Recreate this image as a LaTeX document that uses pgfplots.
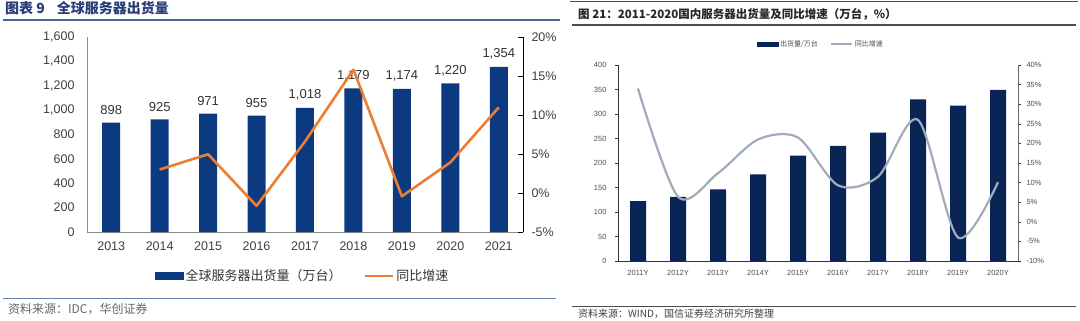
\documentclass[border=0pt]{standalone}
\usepackage{fontspec}
\setmainfont{Liberation Sans}
\newfontfamily\cjk{Noto Sans CJK SC}
\usepackage{pgfplots}
\pgfplotsset{compat=1.18}
\definecolor{barblue}{RGB}{12,58,128}
\definecolor{lineorange}{RGB}{237,125,49}
\definecolor{navy}{RGB}{10,36,84}
\definecolor{graylin}{RGB}{160,172,188}
\definecolor{titleblue}{RGB}{40,60,120}
\definecolor{ruleblue}{RGB}{70,100,150}
\begin{document}
\begin{tikzpicture}[x=1pt,y=1pt]
\path[use as bounding box] (0,0) rectangle (1080,-321);
% ---------- left panel frame ----------
\node[anchor=west, inner sep=0pt, text=titleblue, font=\cjk\bfseries\fontsize{14}{14}\selectfont] at (5,-8) {图表 9\hspace{12pt}全球服务器出货量};
\draw[ruleblue, line width=2pt] (3,-20) -- (560,-20);
\draw[ruleblue!80, line width=0.8pt] (3,-298) -- (556,-298);
\node[anchor=west, inner sep=0pt, text=black!60, font=\cjk\fontsize{12}{12}\selectfont] at (8,-309) {资料来源：IDC，华创证券};
% ---------- right panel frame ----------
\draw[black!70, line width=1.5pt] (570,-1.5) -- (1078,-1.5);
\node[anchor=west, inner sep=0pt, font=\cjk\bfseries\fontsize{11.5}{12}\selectfont, text=black!85] at (578,-14) {图 21：2011-2020国内服务器出货量及同比增速（万台，\%）};
\draw[black!70, line width=1.2pt] (572,-25) -- (1076,-25);
\draw[black!70, line width=1.5pt] (572,-306.5) -- (1076,-306.5);
\node[anchor=west, inner sep=0pt, font=\cjk\fontsize{10}{10}\selectfont, text=black!75] at (578,-314) {资料来源：WIND，国信证券经济研究所整理};

% ---------- left chart: bars ----------
\begin{axis}[
  at={(87pt,-232pt)}, anchor=south west, scale only axis,
  width=436pt, height=195pt,
  xmin=-0.5, xmax=8.5, ymin=0, ymax=1600,
  axis x line*=bottom, axis y line*=left,
  axis line style={draw=black!45, line width=0.8pt},
  xtick={0,...,8}, xticklabels={2013,2014,2015,2016,2017,2018,2019,2020,2021},
  ytick={0,200,...,1600},
  major tick length=0pt,
  /pgf/number format/1000 sep={,},
  /pgf/number format/assume math mode=true,
  ticklabel style={font=\fontsize{12.5}{13}\selectfont, text=black!75},
  yticklabel style={xshift=-9pt},
  xticklabel style={yshift=-6pt},
  clip=false,
]
\addplot[ybar, bar width=18pt, fill=barblue, draw=none,
  nodes near coords,
  nodes near coords style={font=\fontsize{13}{13}\selectfont, text=black!80, yshift=4pt}]
  coordinates {(0,898) (1,925) (2,971) (3,955) (4,1018) (5,1179) (6,1174) (7,1220) (8,1354)};
\end{axis}
% ---------- left chart: growth line ----------
\begin{axis}[
  at={(87pt,-232pt)}, anchor=south west, scale only axis,
  width=436pt, height=195pt,
  xmin=-0.5, xmax=8.5, ymin=-5, ymax=20,
  axis x line=none, axis y line*=right,
  axis line style={draw=black, line width=0.8pt},
  ytick={-5,0,5,10,15,20},
  yticklabels={-5\%,0\%,5\%,10\%,15\%,20\%},
  tick align=inside, major tick length=5pt,
  tick style={black, line width=0.8pt},
  ticklabel style={font=\fontsize{12.5}{13}\selectfont, text=black!75},
  yticklabel style={anchor=west, xshift=5pt},
  clip=false,
  legend columns=2,
  legend style={at={(0.495,-0.226)}, anchor=center, draw=none, fill=none,
    font=\cjk\fontsize{13}{13}\selectfont, text=black!80,
    /tikz/every even column/.append style={column sep=20pt}},
]
\addlegendimage{legend image code/.code={\fill[barblue] (0pt,-3.5pt) rectangle (28pt,3.5pt);}}
\addlegendentry{全球服务器出货量（万台）}
\addplot[lineorange, line width=2.6pt, line join=round,
  legend image code/.code={\draw[lineorange, line width=2.6pt] (0pt,0pt) -- (28pt,0pt);}]
  coordinates {(1,3.01) (2,4.97) (3,-1.65) (4,6.60) (5,15.82) (6,-0.42) (7,3.92) (8,10.98)};
\addlegendentry{同比增速}
\end{axis}

% ---------- right chart: bars ----------
\begin{axis}[
  at={(618pt,-261pt)}, anchor=south west, scale only axis,
  width=400pt, height=196pt,
  xmin=-0.5, xmax=9.5, ymin=0, ymax=400,
  axis x line*=bottom, axis y line*=left,
  axis line style={draw=black!80, line width=0.7pt},
  xtick={0,...,9},
  xticklabels={2011Y,2012Y,2013Y,2014Y,2015Y,2016Y,2017Y,2018Y,2019Y,2020Y},
  minor xtick={0.5,1.5,...,8.5},
  ytick={0,50,...,400},
  tick align=outside, major tick length=3pt, minor tick length=3pt,
  xtick style={draw=none},
  minor tick style={draw=black!80, line width=0.6pt},
  ytick style={black!80, line width=0.6pt},
  /pgf/number format/assume math mode=true,
  ticklabel style={font=\fontsize{7.5}{8}\selectfont, text=black!70},
  yticklabel style={xshift=-5pt},
  xticklabel style={yshift=-3pt},
  clip=false,
]
\addplot[ybar, bar width=16pt, fill=navy, draw=none]
  coordinates {(0,122) (1,131) (2,146) (3,177) (4,215) (5,235) (6,262) (7,330) (8,317) (9,349)};
\end{axis}
% ---------- right chart: growth line ----------
\begin{axis}[
  at={(618pt,-261pt)}, anchor=south west, scale only axis,
  width=400pt, height=196pt,
  xmin=-0.5, xmax=9.5, ymin=-10, ymax=40,
  axis x line=none, axis y line*=right,
  axis line style={draw=black!60, line width=0.7pt},
  ytick={-10,-5,...,40},
  yticklabels={-10\%,-5\%,0\%,5\%,10\%,15\%,20\%,25\%,30\%,35\%,40\%},
  tick align=outside, major tick length=3pt,
  tick style={black!80, line width=0.6pt},
  ticklabel style={font=\fontsize{7.5}{8}\selectfont, text=black!70},
  yticklabel style={anchor=west, xshift=2pt},
  clip=false,
  legend columns=2,
  legend style={at={(0.507,1.107)}, anchor=center, draw=none, fill=none,
    font=\cjk\fontsize{7}{7}\selectfont, text=black!70,
    /tikz/every even column/.append style={column sep=10pt}},
]
\addlegendimage{legend image code/.code={\fill[navy] (0pt,-2pt) rectangle (21pt,2pt);}}
\addlegendentry{出货量/万台}
\addplot[graylin, line width=2.2pt, smooth,
  legend image code/.code={\draw[graylin, line width=2.2pt] (0pt,0pt) -- (21pt,0pt);}]
  coordinates {(0,34.0) (1,6.4) (2,12.4) (3,21.0) (4,21.5) (5,9.3) (6,11.5) (7,26.0) (8,-4.0) (9,10.1)};
\addlegendentry{同比增速}
\end{axis}
\end{tikzpicture}
\end{document}
